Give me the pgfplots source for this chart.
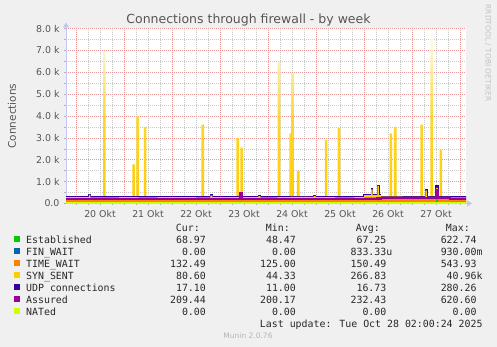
\documentclass[border=0pt]{standalone}
\usepackage{pgfplots}
\pgfplotsset{compat=1.18}
\usepackage{pgfplotstable}
\usepackage{fontspec}
\setmainfont{DejaVu Sans}
\newfontfamily\monofont{DejaVu Sans Mono}
\usetikzlibrary{arrows.meta}

\definecolor{bgc}{RGB}{240,240,240}
\definecolor{cest}{HTML}{00CC00}
\definecolor{cfin}{HTML}{0066B3}
\definecolor{ctw}{HTML}{FF8000}
\definecolor{csyn}{HTML}{FFCC00}
\definecolor{cudp}{HTML}{330099}
\definecolor{cass}{HTML}{990099}
\definecolor{cnat}{HTML}{CCFF00}
\definecolor{mgrid}{RGB}{232,150,150}
\definecolor{ngrid}{RGB}{200,200,200}
\definecolor{axc}{RGB}{196,196,245}
\definecolor{txt}{RGB}{85,85,85}
\definecolor{legtxt}{RGB}{40,40,40}

% base (stacked) series, x in days from 20 Okt 00:00
\pgfplotstableread{
x     est fin tw  syn udp ass
-0.25 66  0   140 80  16  214
0.10  64  0   144 78  16  216
0.27  66  0   140 200 18  214
0.30  67  0   138 80  16  215
0.55  65  0   142 76  17  214
0.90  68  0   140 80  16  218
1.30  66  0   136 78  16  215
1.70  64  0   140 82  17  213
2.10  66  0   142 80  16  216
2.50  65  0   139 78  16  214
2.80  66  0   140 160 16  215
2.84  66  0   141 80  16  215
3.10  67  0   143 78  17  217
3.41  70  0   150 150 20  460
3.45  66  0   140 80  16  216
3.80  65  0   138 130 16  214
3.84  66  0   140 78  16  215
4.20  64  0   142 80  17  216
4.45  48  0   180 80  16  212
4.90  65  0   145 80  16  214
4.95  66  0   140 140 16  216
4.99  66  0   140 80  16  215
5.40  65  0   138 80  16  214
5.80  67  0   142 78  17  217
6.00  66  0   230 82  18  222
6.15  66  0   228 350 18  225
6.18  66  0   230 82  18  222
6.28  70  0   235 500 20  230
6.31  66  0   230 82  18  222
6.35  67  0   160 85  17  232
6.80  68  0   155 82  17  234
7.20  66  0   158 84  16  230
7.28  66  0   158 380 16  232
7.31  66  0   156 84  16  232
7.50  450 0   200 60  120 620
7.54  68  0   152 82  17  233
7.80  69  0   132 81  17  210
8.20  69  0   132 81  17  210
}\base

% SYN_SENT spikes (top of the stack)
\pgfplotstableread{
x     top
0.59  6950
1.20  1790
1.285 3980
1.44  3500
2.64  3600
3.37  3000
3.45  2550
4.23  6480
4.47  3200
4.51  5950
4.63  1480
5.21  2900
5.48  3450
6.56  3200
6.65  3500
7.20  3600
7.41  7770
7.60  2450
}\spikes

\pgfplotsset{
  geom/.style={
    at={(66pt,-203.5pt)}, anchor=south west,
    scale only axis, width=400pt, height=175pt,
    xmin=-0.2083, xmax=8.125, ymin=0, ymax=8000,
  }
}

\begin{document}
\begin{tikzpicture}
\begin{scope}[x=1pt,y=-1pt]
\useasboundingbox (0,0) rectangle (497,347);
\fill[bgc] (0,0) rectangle (497,347);
\end{scope}

% axis 1: background, grid, ticks, spikes
\begin{axis}[geom,
  axis background/.style={fill=white},
  axis x line=bottom, axis y line=left,
  axis line style={draw=axc, line width=0.9pt},
  x axis line style={-{Triangle[length=5pt,width=6pt]}, shorten >=-6pt},
  y axis line style={-{Triangle[length=5pt,width=6pt]}, shorten >=-6pt},
  tick align=outside, major tick length=2pt, minor tick length=2pt,
  tick style={draw=gray!60, line width=0.5pt},
  xtick={0.5,1.5,...,7.5},
  xticklabels={20 Okt,21 Okt,22 Okt,23 Okt,24 Okt,25 Okt,26 Okt,27 Okt},
  minor xtick={-0.25,0.25,0.5,0.75,1.25,1.5,1.75,2.25,2.5,2.75,3.25,3.5,3.75,4.25,4.5,4.75,5.25,5.5,5.75,6.25,6.5,6.75,7.25,7.5,7.75},
  xmajorgrids=false, xminorgrids=true,
  extra x ticks={0,1,2,3,4,5,6,7,8},
  extra x tick style={xmajorgrids=true, xticklabel={}},
  ytick={0,1000,2000,3000,4000,5000,6000,7000,8000},
  yticklabels={0.0,1.0 k,2.0 k,3.0 k,4.0 k,5.0 k,6.0 k,7.0 k,8.0 k},
  minor y tick num=1,
  ymajorgrids=true, yminorgrids=true,
  major grid style={draw=mgrid, line width=0.6pt, dash pattern=on 1pt off 1pt},
  minor grid style={draw=ngrid, line width=0.6pt, dash pattern=on 1pt off 1pt},
  /pgf/number format/assume math mode=true,
  ticklabel style={font=\fontsize{9.4}{10}\selectfont, text=txt},
  yticklabel style={xshift=-1pt},
  xticklabel style={yshift=-1pt},
]
\addplot[ybar, bar width=2.6pt, draw=none,
  top color=csyn!4, bottom color=csyn, middle color=csyn!82]
  table[x=x,y=top]{\spikes};
\end{axis}

% axis 2: stacked areas
\begin{axis}[geom, hide axis, stack plots=y]
\addplot[fill=cest, draw=none, const plot] table[x=x,y=est]{\base} \closedcycle;
\addplot[fill=cfin, draw=none, const plot] table[x=x,y=fin]{\base} \closedcycle;
\addplot[fill=ctw, draw=none, const plot] table[x=x,y=tw]{\base} \closedcycle;
\addplot[fill=csyn, draw=none, const plot] table[x=x,y=syn]{\base} \closedcycle;
\addplot[draw=cudp, line width=1.3pt, const plot] table[x=x,y=udp]{\base};
\end{axis}

% axis 3: lines
\begin{axis}[geom, hide axis]
\addplot[draw=cass, line width=2pt, const plot] table[x=x,y=ass]{\base};
\addplot[draw=cnat, line width=2pt] coordinates {(-0.25,0) (8.2,0)};
\end{axis}

\begin{scope}[x=1pt,y=-1pt]
% title and labels
\node[anchor=base, inner sep=0, text=txt, font=\fontsize{12.5}{14}\selectfont] at (248.5,24) {Connections through firewall - by week};
\node[rotate=90, inner sep=0, text=txt, font=\fontsize{10.5}{12}\selectfont] at (12,116) {Connections};
\node[rotate=-90, inner sep=0, text={rgb,255:red,195;green,195;blue,195}, font=\fontsize{7.5}{8}\selectfont] at (488,53) {RRDTOOL / TOBI OETIKER};

% legend
\begin{scope}[every node/.style={inner sep=0, text=legtxt, font=\monofont\fontsize{9.9}{12}\selectfont}]
\node[anchor=base east] at (200,231.6) {Cur:};
\node[anchor=base east] at (290,231.6) {Min:};
\node[anchor=base east] at (380,231.6) {Avg:};
\node[anchor=base east] at (470,231.6) {Max:};

\fill[cest] (14,236.4) rectangle (20,242.4);
\node[anchor=base west] at (26,243) {Established};
\node[anchor=base east] at (212,243) {68.97\phantom{u}};
\node[anchor=base east] at (302,243) {48.47\phantom{u}};
\node[anchor=base east] at (392.5,243) {67.25\phantom{u}};
\node[anchor=base east] at (482.7,243) {622.74\phantom{u}};

\fill[cfin] (14,248.4) rectangle (20,254.4);
\node[anchor=base west] at (26,255) {FIN\_WAIT};
\node[anchor=base east] at (212,255) {0.00\phantom{u}};
\node[anchor=base east] at (302,255) {0.00\phantom{u}};
\node[anchor=base east] at (392.5,255) {833.33u};
\node[anchor=base east] at (482.7,255) {930.00m};

\fill[ctw] (14,260.4) rectangle (20,266.4);
\node[anchor=base west] at (26,267) {TIME\_WAIT};
\node[anchor=base east] at (212,267) {132.49\phantom{u}};
\node[anchor=base east] at (302,267) {125.00\phantom{u}};
\node[anchor=base east] at (392.5,267) {150.49\phantom{u}};
\node[anchor=base east] at (482.7,267) {543.93\phantom{u}};

\fill[csyn] (14,272.4) rectangle (20,278.4);
\node[anchor=base west] at (26,279) {SYN\_SENT};
\node[anchor=base east] at (212,279) {80.60\phantom{u}};
\node[anchor=base east] at (302,279) {44.33\phantom{u}};
\node[anchor=base east] at (392.5,279) {266.83\phantom{u}};
\node[anchor=base east] at (482.7,279) {40.96k};

\fill[cudp] (14,284.4) rectangle (20,290.4);
\node[anchor=base west] at (26,291) {UDP connections};
\node[anchor=base east] at (212,291) {17.10\phantom{u}};
\node[anchor=base east] at (302,291) {11.00\phantom{u}};
\node[anchor=base east] at (392.5,291) {16.73\phantom{u}};
\node[anchor=base east] at (482.7,291) {280.26\phantom{u}};

\fill[cass] (14,296.4) rectangle (20,302.4);
\node[anchor=base west] at (26,303) {Assured};
\node[anchor=base east] at (212,303) {209.44\phantom{u}};
\node[anchor=base east] at (302,303) {200.17\phantom{u}};
\node[anchor=base east] at (392.5,303) {232.43\phantom{u}};
\node[anchor=base east] at (482.7,303) {620.60\phantom{u}};

\fill[cnat] (14,308.4) rectangle (20,314.4);
\node[anchor=base west] at (26,315) {NATed};
\node[anchor=base east] at (212,315) {0.00\phantom{u}};
\node[anchor=base east] at (302,315) {0.00\phantom{u}};
\node[anchor=base east] at (392.5,315) {0.00\phantom{u}};
\node[anchor=base east] at (482.7,315) {0.00\phantom{u}};

\node[anchor=base east] at (482.7,327) {Last update: Tue Oct 28 02:00:24 2025};
\end{scope}
\node[anchor=base, inner sep=0, text={rgb,255:red,180;green,180;blue,180}, font=\fontsize{7.5}{8}\selectfont] at (248,338.4) {Munin 2.0.76};
\end{scope}
\end{tikzpicture}
\end{document}
